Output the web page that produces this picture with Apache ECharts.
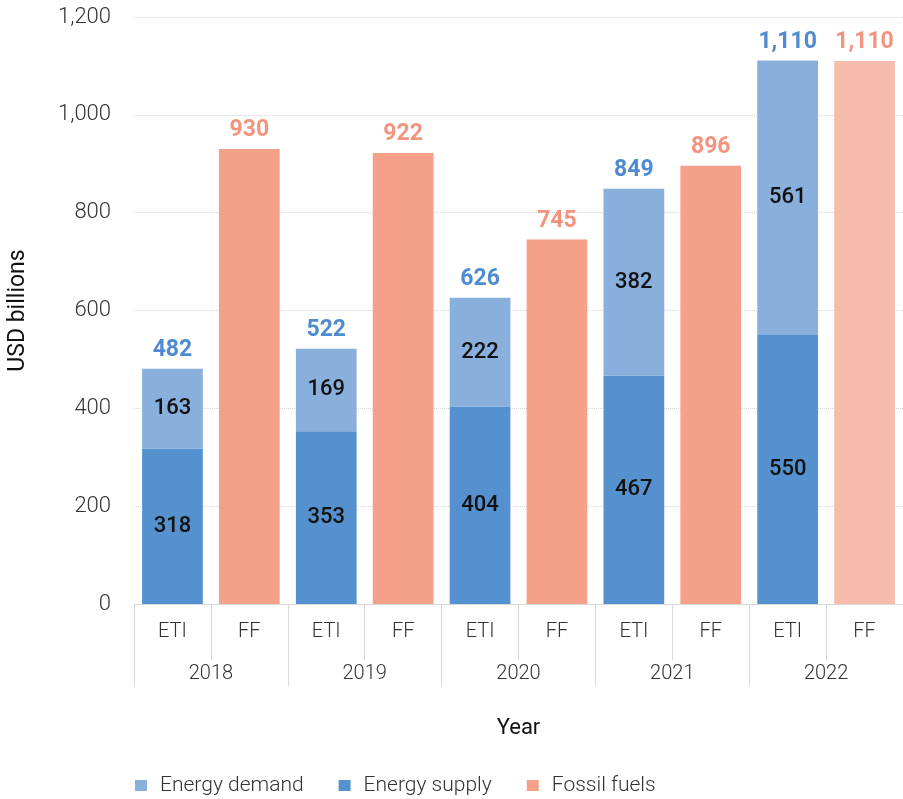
<!DOCTYPE html>
<html>
<head>
<meta charset="utf-8">
<script src="https://cdn.jsdelivr.net/npm/echarts@6/dist/echarts.min.js"></script>
<style>
html,body{margin:0;padding:0;background:#fff;}
#chart_1{width:903px;height:799px;}
</style>
</head>
<body>
<div id="chart_1"></div>
<script>
// 数据
var years = ['2018', '2019', '2020', '2021', '2022'];
var barTypes = ['ETI', 'FF', 'ETI', 'FF', 'ETI', 'FF', 'ETI', 'FF', 'ETI', 'FF'];
var energySupply = [318, '-', 353, '-', 404, '-', 467, '-', 550, '-'];
var energyDemand = [163, '-', 169, '-', 222, '-', 382, '-', 561, '-'];
var fossilFuels = ['-', 930, '-', 922, '-', 745, '-', 896, '-', 1110];
var etiTotals = [482, '-', 522, '-', 626, '-', 849, '-', 1110, '-'];
var yTicks = [0, 200, 400, 600, 800, 1000, 1200];

var font = 'Roboto';
function fmt(v){
    return Number(v).toLocaleString('en-US');
}

var option1 = {
    textStyle: {fontFamily: font},
    legend: {
        data: ['Energy demand', 'Energy supply', 'Fossil fuels'],
        top: 770,
        left: 130,
        itemWidth: 12,
        itemHeight: 11,
        itemGap: 35,
        icon: 'rect',
        textStyle: {fontSize: 21, fontWeight: 300, color: '#333', fontFamily: font, padding: [0, 0, 0, 8]}
    },
    grid: {
        left: 134,
        right: 0,
        top: 17,
        bottom: 195,
        outerBoundsMode: 'none'
    },
    xAxis: [
        {
            type: 'category',
            data: barTypes,
            axisLine: {lineStyle: {color: '#d9d9d9'}},
            axisTick: {show: true, interval: 0, length: 56, lineStyle: {color: '#d9d9d9'}},
            axisLabel: {interval: 0, fontSize: 20, fontWeight: 300, color: '#333', margin: 18}
        },
        {
            type: 'category',
            data: years,
            position: 'bottom',
            axisLine: {show: false},
            axisTick: {show: true, interval: 0, length: 82, lineStyle: {color: '#d9d9d9'}},
            axisLabel: {interval: 0, fontSize: 20, fontWeight: 300, color: '#333', margin: 60},
            name: 'Year',
            nameLocation: 'middle',
            nameGap: 113,
            nameTextStyle: {fontSize: 22, color: '#111'}
        }
    ],
    yAxis: {
        type: 'value',
        min: yTicks[0],
        max: yTicks[yTicks.length - 1],
        interval: 200,
        name: 'USD billions',
        nameLocation: 'middle',
        nameGap: 104,
        nameTextStyle: {fontSize: 23, color: '#111'},
        axisLine: {show: false},
        axisTick: {show: false},
        axisLabel: {fontSize: 22, fontWeight: 300, color: '#333', margin: 23, formatter: fmt},
        splitLine: {lineStyle: {color: '#d6d6d6', type: 'dotted'}}
    },
    series: [
        {
            name: 'Energy supply',
            type: 'bar',
            stack: 'all',
            barCategoryGap: '21%',
            itemStyle: {color: '#5591CE'},
            label: {show: true, position: 'inside', fontSize: 22, fontWeight: 500, color: '#111'},
            data: energySupply
        },
        {
            name: 'Energy demand',
            type: 'bar',
            stack: 'all',
            itemStyle: {color: '#89AFDC'},
            label: {show: true, position: 'inside', fontSize: 22, fontWeight: 500, color: '#111'},
            data: energyDemand
        },
        {
            name: 'Fossil fuels',
            type: 'bar',
            stack: 'all',
            itemStyle: {color: '#F5A18A'},
            label: {
                show: true, position: 'top', distance: 7, fontSize: 23, fontWeight: 'bold', color: '#F39480',
                formatter: function(p){ return fmt(p.value); }
            },
            data: fossilFuels.map(function(v, i){
                if (i === fossilFuels.length - 1) {
                    return {value: v, itemStyle: {color: '#F8BCAE'}};
                }
                return v;
            })
        },
        {
            name: 'ETI total',
            type: 'bar',
            stack: 'all',
            itemStyle: {color: 'transparent'},
            label: {
                show: true, position: 'top', distance: 7, fontSize: 23, fontWeight: 'bold', color: '#4E8BD0',
                formatter: function(p){ return fmt(etiTotals[p.dataIndex]); }
            },
            data: etiTotals.map(function(v){ return v === '-' ? '-' : 0; })
        }
    ]
};
var myChart1 = echarts.init(document.getElementById('chart_1'));
myChart1.setOption(option1);
</script>
</body>
</html>
